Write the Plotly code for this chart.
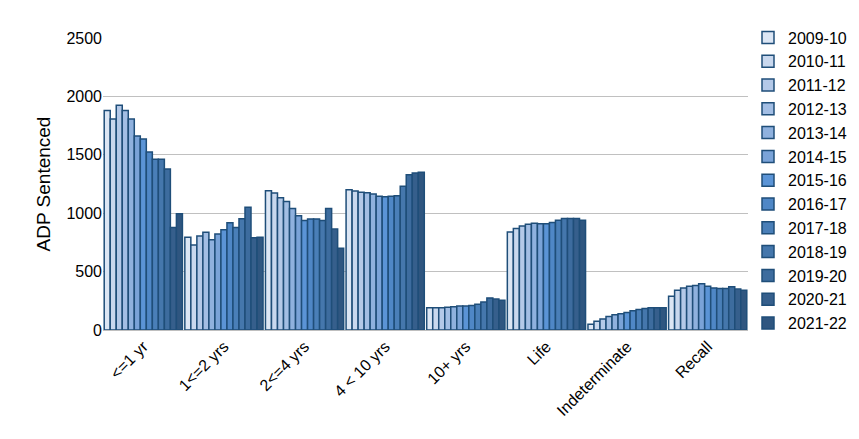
import plotly.graph_objects as go

categories = ["<=1 yr", "1<=2 yrs", "2<=4 yrs", "4 < 10 yrs", "10+ yrs", "Life", "Indeterminate", "Recall"]
years = ["2009-10", "2010-11", "2011-12", "2012-13", "2013-14", "2014-15", "2015-16",
         "2016-17", "2017-18", "2018-19", "2019-20", "2020-21", "2021-22"]
le1 = [1880, 1806, 1924, 1880, 1806, 1662, 1635, 1525, 1462, 1462, 1378, 878, 995]
y1_2 = [795, 727, 804, 836, 773, 822, 858, 918, 877, 953, 1050, 790, 795]
y2_4 = [1192, 1173, 1132, 1101, 1041, 978, 937, 951, 951, 937, 1041, 864, 700]
y4_10 = [1200, 1190, 1180, 1175, 1165, 1145, 1140, 1145, 1150, 1230, 1330, 1345, 1350]
y10p = [190, 190, 190, 195, 200, 205, 205, 210, 220, 240, 275, 265, 255]
life = [840, 870, 890, 905, 915, 910, 910, 920, 940, 955, 955, 955, 940]
indet = [50, 75, 95, 115, 130, 140, 150, 165, 175, 185, 190, 190, 190]
recall = [290, 340, 360, 375, 380, 395, 375, 360, 355, 355, 370, 350, 340]
series = [le1, y1_2, y2_4, y4_10, y10p, life, indet, recall]

colors = ["#dce6f4", "#c9d8ee", "#b4c9e8", "#a3bee4", "#8fb1de", "#7aa3d8", "#5b94d6",
          "#4f87c6", "#4a7fb8", "#4577ac", "#3d6c9e", "#365f8c", "#2f5680"]

fig = go.Figure()
for i, yr in enumerate(years):
    fig.add_trace(go.Bar(x=categories, y=[s[i] for s in series], name=yr,
                         marker=dict(color=colors[i], line=dict(color="#1f4e79", width=1.5))))
fig.update_layout(
    width=859, height=439, barmode="group", bargap=0.03, bargroupgap=0,
    plot_bgcolor="white", paper_bgcolor="white",
    margin=dict(l=95, r=119, t=17, b=117),
    font=dict(family="Liberation Sans, Arial", size=16, color="#000"),
    yaxis=dict(range=[0, 2500], dtick=500, gridcolor="#c0c0c0", gridwidth=1,
               title=dict(text="ADP Sentenced", standoff=10), ticks="", zeroline=False),
    xaxis=dict(tickangle=-45, showline=True, linecolor="#bfbfbf", ticks=""),
    legend=dict(x=1.0, y=1.06, xanchor="left", yanchor="top", tracegroupgap=4,
                font=dict(size=16), itemwidth=30, maxheight=439),
    showlegend=True,
)
fig.write_html("out.html")
